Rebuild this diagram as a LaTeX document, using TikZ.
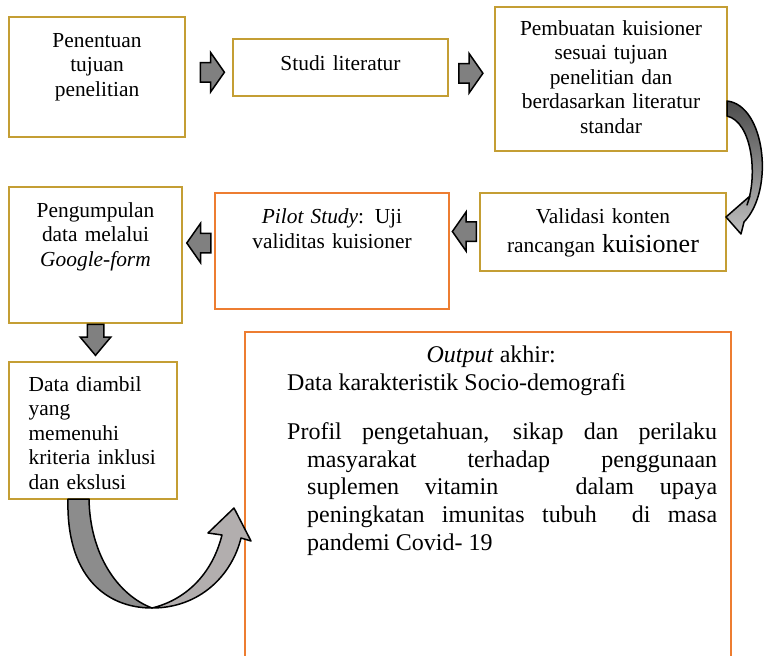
\documentclass[tikz,border=0pt]{standalone}
\usepackage{fontspec}
\setmainfont{Liberation Serif}
\usetikzlibrary{shapes.arrows,calc,positioning}
\definecolor{goldline}{RGB}{196,158,52}
\definecolor{orangeline}{RGB}{237,125,49}
\definecolor{arrowgray}{RGB}{128,128,128}
\definecolor{ribbondark}{RGB}{140,140,140}
\definecolor{ribbonlight}{RGB}{178,174,174}
\tikzset{
  goldbox/.style={draw=goldline, line width=1.2pt, inner sep=0pt},
  orangebox/.style={draw=orangeline, line width=2.4pt, inner sep=0pt},
  boxtext/.style={inner sep=0pt, anchor=base, align=center, font=\fontsize{21.4pt}{24.5pt}\selectfont},
  blockarrow/.style={single arrow, draw=black, fill=arrowgray, line width=1.5pt,
    inner xsep=0pt, inner ysep=9pt, minimum height=24pt, minimum width=38pt,
    single arrow head extend=10pt, single arrow tip angle=110},
  downarrow/.style={blockarrow, shape border rotate=270, inner xsep=7.5pt, inner ysep=0pt,
    minimum height=31pt, minimum width=29pt, single arrow head extend=7pt, single arrow tip angle=80},
  ribbon/.style={draw=black, line width=1.5pt, line join=round}
}
\begin{document}
\begin{tikzpicture}[x=1pt, y=-1pt]
\useasboundingbox (0,0) rectangle (764,656);
\clip (0,0) rectangle (764,656);

% Define boxes
\node[goldbox, minimum width=176pt, minimum height=120pt] (tujuan) at (97,77) {};
\node[goldbox, minimum width=215pt, minimum height=57pt] (studi) at (340.5,67.5) {};
\node[goldbox, minimum width=232pt, minimum height=144pt] (kuisioner) at (611,79) {};
\node[goldbox, minimum width=246pt, minimum height=78pt] (validasi) at (603,232) {};
\node[orangebox, minimum width=234pt, minimum height=116pt] (pilot) at (332,251) {};
\node[goldbox, minimum width=173pt, minimum height=136pt] (pengumpulan) at (95.5,255) {};
\node[goldbox, minimum width=168pt, minimum height=137pt] (seleksi) at (93,430.5) {};
\node[orangebox, line width=2pt, minimum width=486pt, minimum height=380pt] (hasil) at (488,522) {};

% Box texts
\node[boxtext, text width=170pt] (tujuan-t) at ($(tujuan.north)+(0,31)$) {Penentuan\\tujuan\\penelitian};
\node[boxtext, text width=200pt] (studi-t) at ($(studi.north)+(0,32)$) {Studi literatur};
\node[boxtext, text width=226pt] (kuisioner-t) at ($(kuisioner.north)+(0,29)$)
  {Pembuatan kuisioner\\sesuai tujuan\\penelitian dan\\berdasarkan literatur\\standar};
\node[boxtext, text width=240pt] (validasi-t) at ($(validasi.north)+(0,31)$)
  {Validasi konten\\[5pt]rancangan {\fontsize{26pt}{28pt}\selectfont kuisioner}};
\node[boxtext, text width=228pt] (pilot-t) at ($(pilot.north)+(0,32)$) {\textit{Pilot Study}: Uji\\validitas kuisioner};
\node[boxtext, text width=168pt] (pengumpulan-t) at ($(pengumpulan.north)+(0,31)$)
  {Pengumpulan\\data melalui\\\textit{Google-form}};
\node[boxtext, anchor=base west, align=left, text width=150pt] (seleksi-t) at ($(seleksi.north west)+(20,30)$)
  {Data diambil\\yang\\memenuhi\\kriteria inklusi\\dan ekslusi};
\node[inner sep=0pt, anchor=base west, align=justify, text width=430pt,
  font=\fontsize{24pt}{27.6pt}\selectfont] (hasil-t) at ($(hasil.north west)+(43,31.5)$)
  {\hyphenpenalty=10000 \tolerance=10000
   {\centering\textit{Output} akhir:\hspace*{22pt}\par}
   Data karakteristik Socio-demografi\par\vspace{22pt}
   \hangindent=20pt \hangafter=1
   Profil pengetahuan, sikap dan perilaku\linebreak
   masyarakat terhadap penggunaan\linebreak
   suplemen vitamin \ \ dalam upaya\linebreak
   peningkatan imunitas tubuh \ di masa\linebreak
   pandemi Covid- 19\par};

% Block arrows between boxes
\node[blockarrow] (a1) at ($(tujuan.east)!0.5!(studi.west)$) {};
\node[blockarrow, xshift=-4pt] (a2) at ($(studi.east)!0.5!(kuisioner.west)$) {};
\node[blockarrow, shape border rotate=180, xshift=3pt, yshift=10pt] (a3) at ($(validasi.west)!0.5!(pilot.east)$) {};
\node[blockarrow, shape border rotate=180, xshift=4pt, yshift=10pt] (a4) at ($(pilot.west)!0.5!(pengumpulan.east)$) {};
\node[downarrow, anchor=tail] (a5) at (pengumpulan.south) {};

% Curved arrow from kuisioner to validasi
\draw[ribbon, top color=black!70, bottom color=black!25]
  (727,101) .. controls (765,105) and (775,190) .. (744,222)
  -- (741,234) -- (726,217) -- (750,196) -- (747,205)
  .. controls (758,175) and (752,122) .. (727,116) -- cycle;

% U-turn arrow from seleksi to hasil
\draw[ribbon, fill=ribbondark]
  (68,499) .. controls (66,575) and (105,608) .. (152,608)
  .. controls (118,595) and (90,555) .. (89,499) -- cycle;
\draw[ribbon, fill=ribbonlight]
  (152,608) .. controls (200,608) and (232,575) .. (241,538)
  -- (251,541) -- (234,508) -- (208,533) -- (222,535)
  .. controls (212,575) and (185,600) .. (152,608) -- cycle;
\end{tikzpicture}
\end{document}
